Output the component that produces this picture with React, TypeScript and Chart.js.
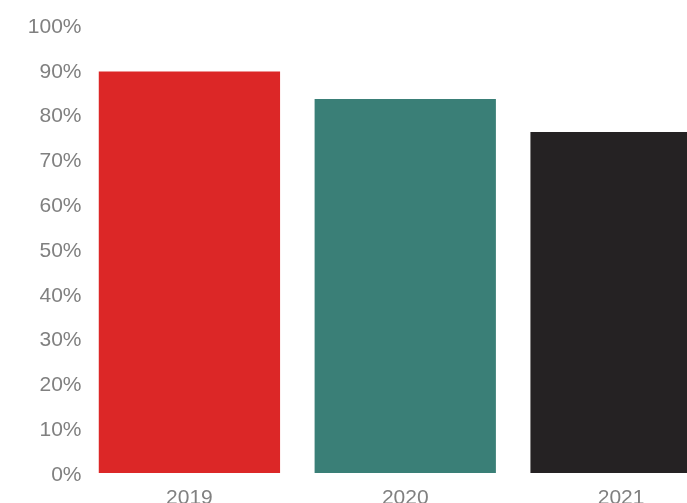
import React, { useEffect, useRef } from "react";
import { Chart, registerables } from "chart.js";

Chart.register(...registerables);

const categories = ["2019", "2020", "2021"];
const values = [89.6, 83.5, 76.1];
const barColors = ["#dc2727", "#3a7f77", "#252223"];
const yTicks = [0, 10, 20, 30, 40, 50, 60, 70, 80, 90, 100];

export default function App() {
  const ref = useRef<HTMLCanvasElement | null>(null);
  useEffect(() => {
    if (!ref.current) return;
    const font = { family: "'Liberation Sans', Arial, sans-serif", size: 21 };
    const chart = new Chart(ref.current, {
      type: "bar",
      data: {
        labels: categories,
        datasets: [
          {
            data: values,
            backgroundColor: barColors,
            borderWidth: 0,
            categoryPercentage: 1,
            barPercentage: 0.84,
          },
        ],
      },
      options: {
        animation: false,
        responsive: false,
        maintainAspectRatio: false,
        layout: { padding: { top: 25, left: 0, right: 0, bottom: 0 } },
        plugins: { legend: { display: false }, tooltip: { enabled: false } },
        scales: {
          x: {
            grid: { display: false, drawTicks: false },
            border: { display: false },
            ticks: { color: "#808080", font, padding: 13 },
            afterFit: (s: any) => {
              s.height = 40;
            },
          },
          y: {
            min: 0,
            max: 100,
            afterBuildTicks: (s: any) => {
              s.ticks = yTicks.map((v) => ({ value: v }));
            },
            grid: { display: false, drawTicks: false },
            border: { display: false },
            ticks: {
              color: "#808080",
              font,
              padding: 0,
              labelOffset: 2,
              callback: (v: any) => v + "%",
            },
            afterFit: (s: any) => {
              s.width = 81.5;
            },
          },
        },
      },
    });
    return () => chart.destroy();
  }, []);
  return (
    <div style={{ position: "absolute", left: 0, top: 0, width: 729, height: 513 }}>
      <canvas ref={ref} width={729} height={513} style={{ display: "block" }} />
    </div>
  );
}
